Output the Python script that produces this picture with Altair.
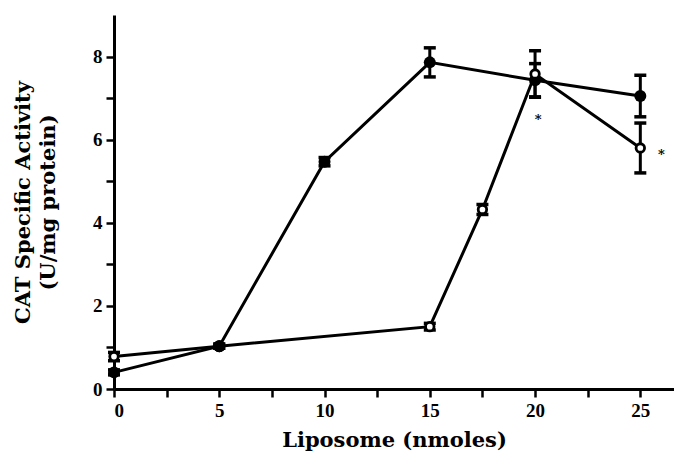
import altair as alt
import pandas as pd

# Filled circles series
x_filled = [0, 5, 10, 15, 20, 25]
y_filled = [0.40, 1.03, 5.47, 7.86, 7.43, 7.05]
e_filled = [0.06, 0.05, 0.10, 0.35, 0.40, 0.50]

# Open circles series
x_open = [0, 5, 15, 17.5, 20, 25]
y_open = [0.78, 1.03, 1.50, 4.32, 7.58, 5.80]
e_open = [0.10, 0.05, 0.08, 0.12, 0.56, 0.60]

# asterisks
star_x = [20.15, 26.0]
star_y = [6.55, 5.70]

x_ticks = [0, 2.5, 5, 7.5, 10, 12.5, 15, 17.5, 20, 22.5, 25]
y_ticks = [0, 1, 2, 3, 4, 5, 6, 7, 8]

df_f = pd.DataFrame({"x": x_filled, "y": y_filled, "lo": [a - b for a, b in zip(y_filled, e_filled)],
                     "hi": [a + b for a, b in zip(y_filled, e_filled)], "s": "filled"})
df_o = pd.DataFrame({"x": x_open, "y": y_open, "lo": [a - b for a, b in zip(y_open, e_open)],
                     "hi": [a + b for a, b in zip(y_open, e_open)], "s": "open"})
df_all = pd.concat([df_f, df_o], ignore_index=True)
df_star = pd.DataFrame({"x": star_x, "y": star_y, "t": ["*", "*"]})

LABEL_FONT = "Liberation Serif"
TITLE_FONT = "DejaVu Serif"

xs = alt.Scale(domain=[0, 26.6], nice=False, zero=False)
ys = alt.Scale(domain=[0, 9], nice=False)

X = alt.X("x:Q", scale=xs, title="Liposome (nmoles)",
          axis=alt.Axis(values=x_ticks, labelExpr="datum.value % 5 == 0 ? datum.label : ''",
                        grid=False, titlePadding=9, labelPadding=4,
                        labelFont=LABEL_FONT, labelFontSize=19, labelFontWeight="bold",
                        titleFont=TITLE_FONT, titleFontSize=21, titleFontWeight="bold"))
Y = alt.Y("y:Q", scale=ys, title=["CAT Specific Activity", "(U/mg protein)"],
          axis=alt.Axis(values=y_ticks, labelExpr="datum.value % 2 == 0 ? datum.label : ''",
                        grid=False, titlePadding=34, labelPadding=4,
                        labelFont=LABEL_FONT, labelFontSize=19, labelFontWeight="bold",
                        titleFont=TITLE_FONT, titleFontSize=21, titleFontWeight="bold",
                        titleLineHeight=25))

base = alt.Chart(df_all)

lines = base.mark_line(color="black", strokeWidth=3).encode(
    x=X, y=Y, detail="s:N", order="x:Q")

bars = base.mark_rule(color="black", strokeWidth=3).encode(
    x="x:Q", y="lo:Q", y2="hi:Q")
cap_hi = base.mark_tick(color="black", orient="horizontal", size=12, thickness=3.5, opacity=1).encode(
    x="x:Q", y="hi:Q")
cap_lo = base.mark_tick(color="black", orient="horizontal", size=12, thickness=3.5, opacity=1).encode(
    x="x:Q", y="lo:Q")

pts_f = alt.Chart(df_f).mark_point(shape="circle", filled=True, color="black", size=144, opacity=1).encode(
    x="x:Q", y="y:Q")
pts_o = alt.Chart(df_o).mark_point(shape="circle", filled=True, fill="white", stroke="black",
                                   strokeWidth=2.8, size=72, opacity=1).encode(
    x="x:Q", y="y:Q")
# the shared point at x = 5 shows the filled symbol on top
pts_f_top = alt.Chart(df_f).transform_filter("datum.x == 5").mark_point(
    shape="circle", filled=True, color="black", size=144, opacity=1).encode(x="x:Q", y="y:Q")

stars = alt.Chart(df_star).mark_text(text="*", font=TITLE_FONT, fontSize=13, fontWeight="bold",
                                     color="black", baseline="middle", dy=3).encode(
    x="x:Q", y="y:Q")

chart = alt.layer(lines, bars, cap_hi, cap_lo, pts_f, pts_o, pts_f_top, stars).properties(
    width=560, height=374,
    autosize=alt.AutoSizeParams(type="none"),
    padding={"left": 106, "top": 7, "right": 0, "bottom": 64},
).configure_view(stroke=None).configure_axis(
    domainColor="black", domainWidth=3, tickColor="black", tickWidth=2.5, tickSize=8,
    labelColor="black", titleColor="black",
)

chart.save("out.html", embed_options={"renderer": "svg", "actions": False})
